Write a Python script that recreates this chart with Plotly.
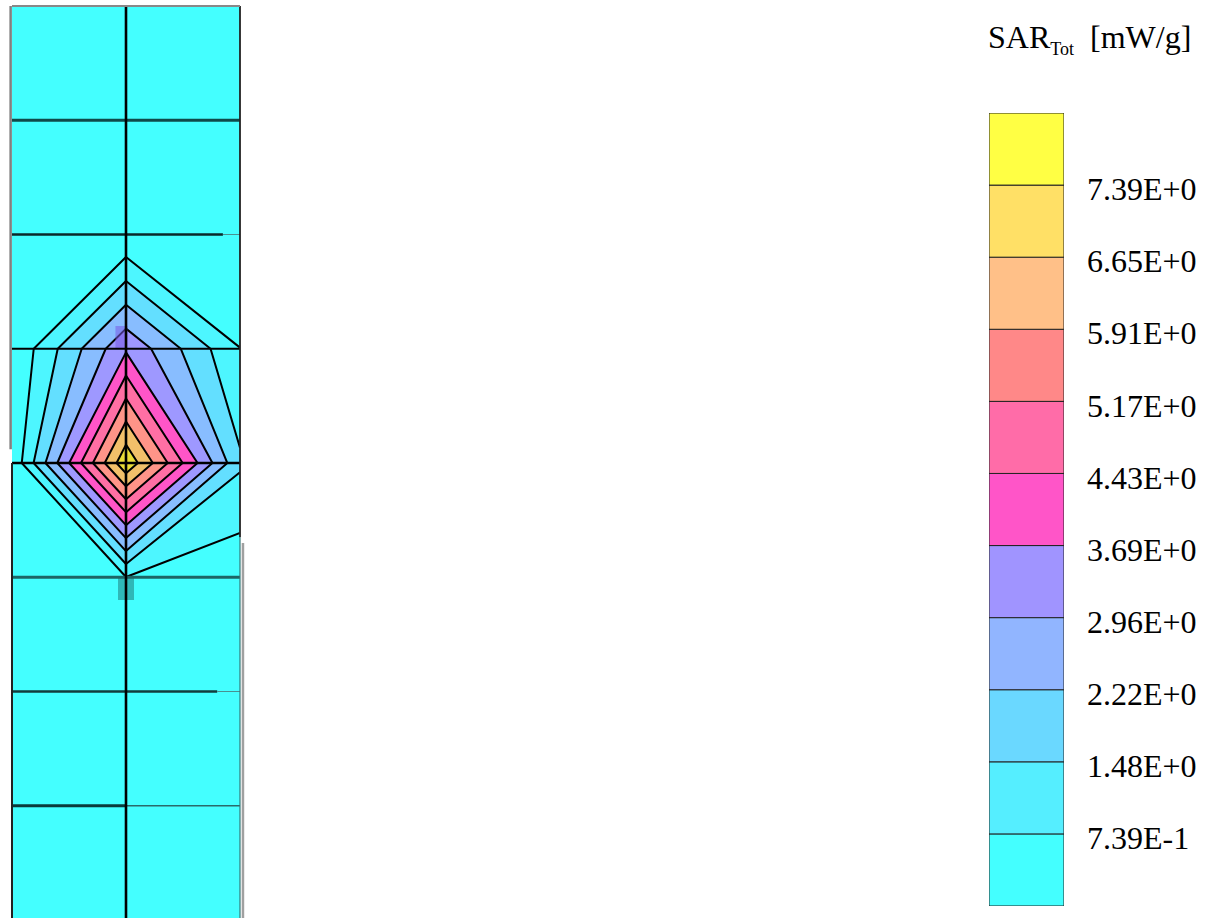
import plotly.graph_objects as go

# Mesh nodes
mesh_x = [0, 1, 2]
mesh_y = [0, 1, 2, 3, 4, 5, 6, 7, 8]
# SAR at the mesh nodes, bottom row first
sar = [
    [0.05, 0.05, 0.05],
    [0.05, 0.05, 0.05],
    [0.05, 0.06, 0.05],
    [0.07, 0.724, 0.20],
    [0.13, 7.24, 1.59],
    [0.07, 3.58, 0.746],
    [0.04, 0.04, 0.04],
    [0.04, 0.04, 0.04],
    [0.04, 0.04, 0.04],
]
# Legend
level_values = [0.739, 1.478, 2.217, 2.956, 3.695, 4.434, 5.173, 5.912, 6.651, 7.39]
level_labels = ["7.39E-1", "1.48E+0", "2.22E+0", "2.96E+0", "3.69E+0",
                "4.43E+0", "5.17E+0", "5.91E+0", "6.65E+0", "7.39E+0"]
band_bases = [0, 0.739, 1.478, 2.217, 2.956, 3.695, 4.434, 5.173, 5.912, 6.651, 7.39]
band_sizes = [0.739] * 11
band_colors = ["#44FFFF", "#55EEFF", "#6AD8FF", "#91B5FF", "#A094FF", "#FF55C8",
               "#FF6CA8", "#FF8888", "#FFC088", "#FFE066", "#FFFF44"]
# The plot's innermost band prints darker than its legend swatch
field_colors = ["#44FFFF", "#55EEFF", "#6AD8FF", "#91B5FF", "#A094FF", "#FF55C8",
                "#FF6CA8", "#FF8888", "#FFC088", "#D8C02E", "#FFFF44"]

W, H = 1220, 918
FONT = "Liberation Serif"
scale = [[i / 10, c] for i, c in enumerate(field_colors)]

fig = go.Figure()
fig.add_trace(go.Contour(
    x=mesh_x, y=mesh_y, z=sar, xaxis="x", yaxis="y",
    colorscale=scale, zauto=False, zmin=0, zmax=7.39,
    autocontour=False, showscale=False, hoverinfo="skip",
    contours=dict(start=0.739, end=7.39, size=0.739, coloring="fill", showlines=True),
    line=dict(color="black", width=2, smoothing=0),
))


def seg(xs, ys, color, width):
    fig.add_trace(go.Scatter(x=xs, y=ys, mode="lines", line=dict(color=color, width=width),
                             hoverinfo="skip", showlegend=False))


# Print smudges on the centre line
seg([0.96, 0.96], [5, 5.2], "rgba(120,90,230,0.55)", 12)
seg([1, 1], [3, 2.8], "#2FB8B8", 16)

# Mesh lines: (row, from, to, colour, width); several stop short of the right edge
mesh_rows = [
    (1, 0, 1, "#0A3A3A", 3), (1, 1, 2, "#2A6A6A", 1.6),
    (2, 0, 1.8, "#123C3C", 2.5), (2, 1.8, 2, "#4A9090", 1.2),
    (3, 0, 2, "#1C6666", 3),
    (4, 0, 2, "#000000", 2.5),
    (5, 0, 2, "#000000", 2),
    (6, 0, 1.85, "#0A2A2A", 2.6), (6, 1.85, 2, "#4A9090", 1.2),
    (7, 0, 2, "#0F4A4A", 3),
]
for row, x0, x1, col, wid in mesh_rows:
    seg([x0, x1], [row, row], col, wid)
seg([mesh_x[1], mesh_x[1]], [mesh_y[0], mesh_y[-1]], "black", 2.6)

# Outer border, which breaks along both sides
seg([-0.012, -0.012], [4.12, 8], "#808080", 2.5)
seg([0, 0], [0, 4], "#222222", 2)
seg([2, 2], [3.35, 8], "#222222", 1.8)
seg([2, 2], [0, 3.35], "#337777", 1.2)
seg([2.026, 2.026], [0, 3.3], "#A0A0A0", 2.5)
seg([0, 2], [8, 8], "#888888", 2.2)

# Legend column
fig.add_trace(go.Bar(
    x=[0] * len(band_sizes), y=band_sizes, base=band_bases, width=1,
    marker=dict(color=band_colors, line=dict(color="#222222", width=1)),
    xaxis="x2", yaxis="y2", hoverinfo="skip", showlegend=False,
))

fig.update_layout(
    width=W, height=H, margin=dict(l=0, r=0, t=0, b=0),
    paper_bgcolor="white", plot_bgcolor="white", showlegend=False,
    font=dict(family=FONT, color="black", size=32),
    # Ranges run past the mesh so the outer border is not clipped
    xaxis=dict(domain=[6.3 / W, 245.7 / W], range=[-0.05, 2.05], visible=False),
    yaxis=dict(domain=[0, (H - 0.3) / H], range=[0.0175, 8.05], visible=False),
    xaxis2=dict(domain=[989 / W, 1064 / W], range=[-0.5, 0.5], visible=False, anchor="y2"),
    yaxis2=dict(domain=[(H - 906) / H, (H - 113) / H], range=[0, 8.129], anchor="x2",
                side="right", tickmode="array", tickvals=level_values, ticktext=level_labels,
                ticks="", showgrid=False, zeroline=False, showline=False,
                tickfont=dict(family=FONT, size=32, color="black"),
                ticklabelstandoff=22, ticklabelshift=4),
    annotations=[dict(
        xref="paper", yref="paper", x=986 / W, y=(H - 38.5) / H, xanchor="left", yanchor="middle",
        showarrow=False, align="left", font=dict(family=FONT, size=32, color="black"),
        text="SAR<sub><span style='font-size:18px'>Tot</span></sub>\u00a0\u00a0[mW/g]",
    )],
)

fig.write_html("out.html", config=dict(displayModeBar=False),
               post_script="document.body.style.margin='0';")
